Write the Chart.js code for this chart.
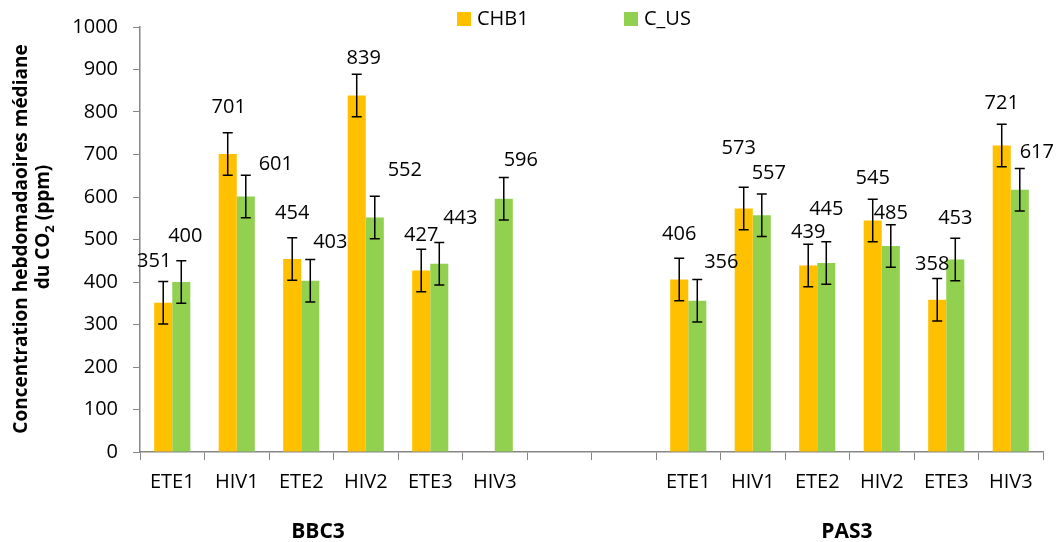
<!DOCTYPE html>
<html>
<head>
<meta charset="utf-8">
<script src="https://cdn.jsdelivr.net/npm/chart.js@4.4.0/dist/chart.umd.min.js"></script>
<style>
  html, body { margin: 0; padding: 0; background: #fff; }
  #wrap { width: 1058px; height: 542px; }
</style>
</head>
<body>
<div id="wrap"><canvas id="chart"></canvas></div>
<script>
// categories (two empty slots separate the sites)
const categories = ['ETE1', 'HIV1', 'ETE2', 'HIV2', 'ETE3', 'HIV3', '', '', 'ETE1', 'HIV1', 'ETE2', 'HIV2', 'ETE3', 'HIV3'];
const groups = ['BBC3', 'PAS3'];

// median weekly CO2 (ppm)
const chb1 = [351, 701, 454, 839, 427, null, null, null, 406, 573, 439, 545, 358, 721];
const cUs  = [400, 601, 403, 552, 443, 596, null, null, 356, 557, 445, 485, 453, 617];

// error bar half-widths (ppm)
const chb1Err = [50, 50, 50, 50, 50, null, null, null, 50, 50, 50, 50, 50, 50];
const cUsErr  = [50, 50, 50, 50, 50, 50, null, null, 50, 50, 50, 50, 50, 50];

// hand placed value labels: [dx, dy] from the top of the bar
const chb1Nudge = [[-9, -42], [1, -47], [0, -46], [7, -37], [0, -35], null, null, null,
                   [0, -45], [-5, -60], [0, -33], [0, -42], [-5, -36], [0, -42]];
const cUsNudge  = [[4, -46], [30, -32], [20, -38], [30, -47], [21, -45], [17, -38], null, null,
                   [24, -38], [7, -42], [0, -54], [0, -33], [0, -41], [17, -37]];

const FONT = '"Open Sans", "Noto Sans", sans-serif';
const AXIS = '#868686';

const extras = {
    id: 'extras',
    afterDatasetsDraw(chart) {
        const ctx = chart.ctx;
        const y = chart.scales.y;
        const errs = [chb1Err, cUsErr];
        const nudges = [chb1Nudge, cUsNudge];
        ctx.save();
        chart.data.datasets.forEach((ds, di) => {
            chart.getDatasetMeta(di).data.forEach((bar, i) => {
                const v = ds.data[i];
                if (v == null) return;
                // error bar
                const e = errs[di][i];
                const hi = y.getPixelForValue(v + e);
                const lo = y.getPixelForValue(v - e);
                ctx.strokeStyle = '#000';
                ctx.lineWidth = 1.5;
                ctx.beginPath();
                ctx.moveTo(bar.x, hi); ctx.lineTo(bar.x, lo);
                ctx.moveTo(bar.x - 5, hi); ctx.lineTo(bar.x + 5, hi);
                ctx.moveTo(bar.x - 5, lo); ctx.lineTo(bar.x + 5, lo);
                ctx.stroke();
                // value label
                const n = nudges[di][i];
                ctx.fillStyle = '#000';
                ctx.font = '20px ' + FONT;
                ctx.textAlign = 'center';
                ctx.textBaseline = 'middle';
                ctx.fillText(String(v), bar.x + n[0], bar.y + n[1]);
            });
        });
        ctx.restore();
    },
    afterDraw(chart) {
        const ctx = chart.ctx;
        const x = chart.scales.x;
        ctx.save();
        ctx.fillStyle = '#000';

        // legend
        ctx.font = '20px ' + FONT;
        ctx.textAlign = 'left';
        ctx.textBaseline = 'middle';
        chart.data.datasets.forEach((ds, i) => {
            const lx = 457 + i * 167;
            ctx.fillStyle = ds.backgroundColor;
            ctx.fillRect(lx, 12, 14, 14);
            ctx.fillStyle = '#000';
            ctx.fillText(ds.label, lx + 20, 19);
        });

        // site labels under the axis
        ctx.font = 'bold 21px ' + FONT;
        ctx.textAlign = 'center';
        ctx.fillText(groups[0], x.getPixelForValue(2.26), 532);
        ctx.fillText(groups[1], x.getPixelForValue(10.46), 532);

        // y axis title, two lines, subscript 2
        ctx.save();
        ctx.translate(22, 239);
        ctx.rotate(-Math.PI / 2);
        ctx.font = 'bold 19px ' + FONT;
        ctx.fillText('Concentration hebdomadaoires médiane', 0, 0);
        ctx.restore();

        ctx.save();
        ctx.translate(44, 227);
        ctx.rotate(-Math.PI / 2);
        const big = 'bold 19px ' + FONT, small = 'bold 13px ' + FONT;
        ctx.font = big;
        const w1 = ctx.measureText('du CO').width;
        const w3 = ctx.measureText(' (ppm)').width;
        ctx.font = small;
        const w2 = ctx.measureText('2').width;
        let px = -(w1 + w2 + w3) / 2;
        ctx.textAlign = 'left';
        ctx.font = big;
        ctx.fillText('du CO', px, 0);
        px += w1;
        ctx.font = small;
        ctx.fillText('2', px, 6);
        px += w2;
        ctx.font = big;
        ctx.fillText(' (ppm)', px, 0);
        ctx.restore();

        ctx.restore();
    }
};

new Chart(document.getElementById('chart'), {
    type: 'bar',
    data: {
        labels: categories,
        datasets: [
            { label: 'CHB1', data: chb1, backgroundColor: '#FFC000', borderWidth: 0 },
            { label: 'C_US', data: cUs, backgroundColor: '#92D050', borderWidth: 0 }
        ]
    },
    options: {
        responsive: true,
        maintainAspectRatio: false,
        animation: false,
        categoryPercentage: 0.56,
        barPercentage: 1.0,
        layout: { padding: { top: 24, right: 15, bottom: 0, left: 0 } },
        plugins: {
            legend: { display: false },
            tooltip: { enabled: false }
        },
        scales: {
            x: {
                grid: { drawOnChartArea: false, drawTicks: true, tickLength: 8, color: AXIS, offset: true },
                border: { color: AXIS, width: 1.5 },
                ticks: { color: '#000', font: { family: FONT, size: 20 }, padding: 10, maxRotation: 0, autoSkip: false },
                afterFit(scale) { scale.height = 90; }
            },
            y: {
                min: 0,
                max: 1000,
                grid: { drawOnChartArea: false, drawTicks: true, tickLength: 7, color: AXIS },
                border: { color: AXIS, width: 1.5 },
                ticks: { stepSize: 100, color: '#000', font: { family: FONT, size: 20 }, padding: 15,
                         callback: (v) => String(v) },
                afterFit(scale) { scale.width = 140; }
            }
        }
    },
    plugins: [extras]
});
</script>
</body>
</html>
